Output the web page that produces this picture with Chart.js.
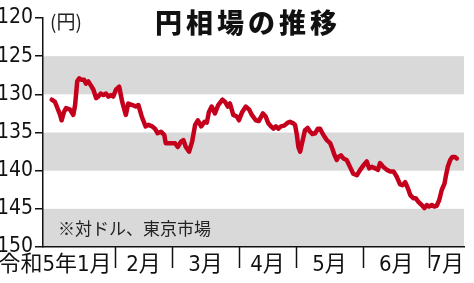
<!DOCTYPE html>
<html>
<head>
<meta charset="utf-8">
<script src="https://cdn.jsdelivr.net/npm/chart.js@4.4.0/dist/chart.umd.min.js"></script>
<style>
  html, body { margin: 0; padding: 0; background: #fff; }
  #wrap { width: 474px; height: 283px; }
</style>
</head>
<body>
<div id="wrap"><canvas id="yenChart" width="474" height="283"></canvas></div>
<script>
// 営業日(1月4日=0)ごとの円相場(円/ドル)
const days = [0,1.1,1.7,2.8,3.3,4.1,4.8,6.1,7.2,7.8,
  8.5,9.2,10,10.8,11.4,12.2,13,13.9,14.8,15.5,
  16.3,17.2,18.1,18.9,19.7,20.5,21.4,22.5,23.5,24.7,
  25.5,26.9,28,28.9,30,31.3,32.2,33.5,34.4,35.3,
  36.4,37.5,38,39.4,41.1,42,43.1,43.9,44.7,45.8,
  46.8,47.8,48.7,49.8,50.9,51.7,52.4,53.3,54.4,55.5,
  56.9,57.8,58.7,59.4,60.5,61.7,62.4,63.5,64.7,65.8,
  66.7,68,69,70.4,71.3,72.2,73.1,73.9,74.7,75.5,
  76.4,77.5,78.7,79.4,80.5,81.1,81.7,82.2,82.8,83.3,
  83.9,84.4,85.3,86.1,86.9,87.8,88.7,89.4,90.5,91.7,
  92.8,93.5,94.3,95,95.5,96.4,97.2,98.3,99.4,100.5,
  101.7,102.8,103.9,105,105.8,106.7,107.8,108.7,109.4,110.5,
  111.7,112.8,113.9,115,116.1,116.9,117.8,118.7,119.5,120.5,
  121.3,122.2,123.3,124.2,125,125.8,126.7,127.5,128.3,129.1,
  130,130.9,131.3,132,132.8,133.5,134.4,135];

const rates = [130.7,131.0,131.6,132.7,133.4,132.3,131.8,132.0,132.7,131.4,
  128.3,127.9,128.1,128.1,128.6,128.3,128.8,129.4,130.5,130.3,
  129.9,130.1,129.9,130.3,130.1,130.3,129.4,129.0,131.0,132.7,
  131.2,131.4,131.6,131.4,132.9,134.2,134.0,134.2,134.5,135.1,
  134.9,135.3,136.4,136.4,136.4,136.9,136.2,136.0,136.9,137.5,
  136.2,134.0,133.4,134.2,133.6,133.7,132.3,131.6,132.5,131.4,
  130.7,131.0,131.6,131.2,132.7,132.9,133.4,132.3,131.6,132.0,
  132.7,133.4,133.5,132.5,132.9,133.8,134.2,134.5,134.2,134.5,
  134.2,134.1,133.7,133.6,133.8,134.0,135.3,136.9,137.5,136.6,
  135.6,134.7,134.4,134.9,135.2,135.1,134.5,134.5,135.3,136.0,
  136.4,137.1,138.0,138.6,138.2,138.0,138.4,138.6,139.5,140.4,
  140.6,139.9,139.3,138.8,139.7,139.5,139.7,139.9,139.0,139.5,
  139.9,140.1,140.1,140.8,141.8,141.9,141.5,142.3,143.2,143.6,
  143.6,144.1,144.5,144.9,144.5,144.7,144.5,144.7,144.6,143.9,
  142.5,141.7,140.8,139.5,138.6,138.2,138.2,138.4];

// 月の区切り(営業日)と月名
const monthEdges = [21.1, 40.1, 62.4, 81.4, 103.8, 125.8];
const monthLabels = ['令和5年1月', '2月', '3月', '4月', '5月', '6月', '7月'];

// y軸の目盛り
const yTicks = [120, 125, 130, 135, 140, 145, 150];
// 灰色の帯
const bands = [[125, 130], [135, 140], [145, 150]];

const X_MIN = -2.9, X_MAX = 137.4;
const NARROW = "'Liberation Sans Narrow', 'DejaVu Sans Condensed', 'Noto Sans CJK JP', sans-serif";
const JP = "'Noto Sans CJK JP', sans-serif";

// 月名の位置: 1月だけ左寄せ、他は区切りの中央
const labelPos = [1.1];
for (let i = 1; i < monthLabels.length; i++) {
  const right = i < monthEdges.length ? monthEdges[i] : X_MAX;
  labelPos.push((monthEdges[i - 1] + right) / 2);
}

const decor = {
  id: 'decor',
  beforeDraw(chart) {
    const { ctx, chartArea: a, scales: { y } } = chart;
    ctx.save();
    ctx.fillStyle = '#d9d9d9';
    bands.forEach(([lo, hi]) => {
      const y1 = y.getPixelForValue(lo), y2 = y.getPixelForValue(hi);
      ctx.fillRect(a.left, y1, a.right - a.left, y2 - y1);
    });
    ctx.restore();
  },
  afterDraw(chart) {
    const { ctx, chartArea: a, scales: { x } } = chart;
    ctx.save();
    // 月の区切り線
    ctx.strokeStyle = '#111';
    ctx.lineWidth = 1.5;
    monthEdges.forEach(d => {
      const px = Math.round(x.getPixelForValue(d)) + 0.5;
      ctx.beginPath();
      ctx.moveTo(px, a.bottom);
      ctx.lineTo(px, a.bottom + 21);
      ctx.stroke();
    });
    // 見出し
    ctx.fillStyle = '#111';
    ctx.textBaseline = 'middle';
    ctx.textAlign = 'left';
    ctx.font = "900 27px " + JP;
    ctx.letterSpacing = '4px';
    ctx.fillText('円相場の推移', 155, 23);
    ctx.letterSpacing = '0px';
    ctx.font = "19px " + JP;
    ctx.fillStyle = '#222';
    ctx.fillText('(円)', 50, 22);
    ctx.font = "17px " + JP;
    ctx.fillText('※対ドル、東京市場', 58, 229);
    ctx.restore();
  }
};

const ctx = document.getElementById('yenChart').getContext('2d');
new Chart(ctx, {
  type: 'line',
  data: {
    datasets: [{
      data: days.map((d, i) => ({ x: d, y: rates[i] })),
      borderColor: '#c5001c',
      borderWidth: 4.5,
      borderJoinStyle: 'round',
      borderCapStyle: 'round',
      pointRadius: 0,
      tension: 0
    }]
  },
  options: {
    responsive: false,
    animation: false,
    layout: { padding: { top: 18, right: 10, left: 0, bottom: 0 } },
    plugins: { legend: { display: false }, tooltip: { enabled: false } },
    scales: {
      x: {
        type: 'linear',
        min: X_MIN,
        max: X_MAX,
        grid: { display: false, drawTicks: false },
        border: { display: true, color: '#111', width: 1.5 },
        afterBuildTicks: s => { s.ticks = labelPos.map(v => ({ value: v })); },
        afterFit: s => { s.height = 36; s.paddingLeft = 0; s.paddingRight = 0; },
        ticks: {
          autoSkip: false,
          maxRotation: 0,
          padding: 5,
          color: '#111',
          font: { family: NARROW, size: 22 },
          callback: (v, i) => monthLabels[i]
        }
      },
      y: {
        reverse: true,
        min: 120,
        max: 150,
        afterBuildTicks: s => { s.ticks = yTicks.map(v => ({ value: v })); },
        afterFit: s => { s.width = 43; },
        grid: { drawOnChartArea: false, drawTicks: true, tickLength: 8, color: '#111', lineWidth: 1.5 },
        border: { display: true, color: '#111', width: 1.5 },
        ticks: {
          padding: 2,
          color: '#111',
          font: { family: NARROW, size: 21 }
        }
      }
    }
  },
  plugins: [decor]
});
</script>
</body>
</html>
